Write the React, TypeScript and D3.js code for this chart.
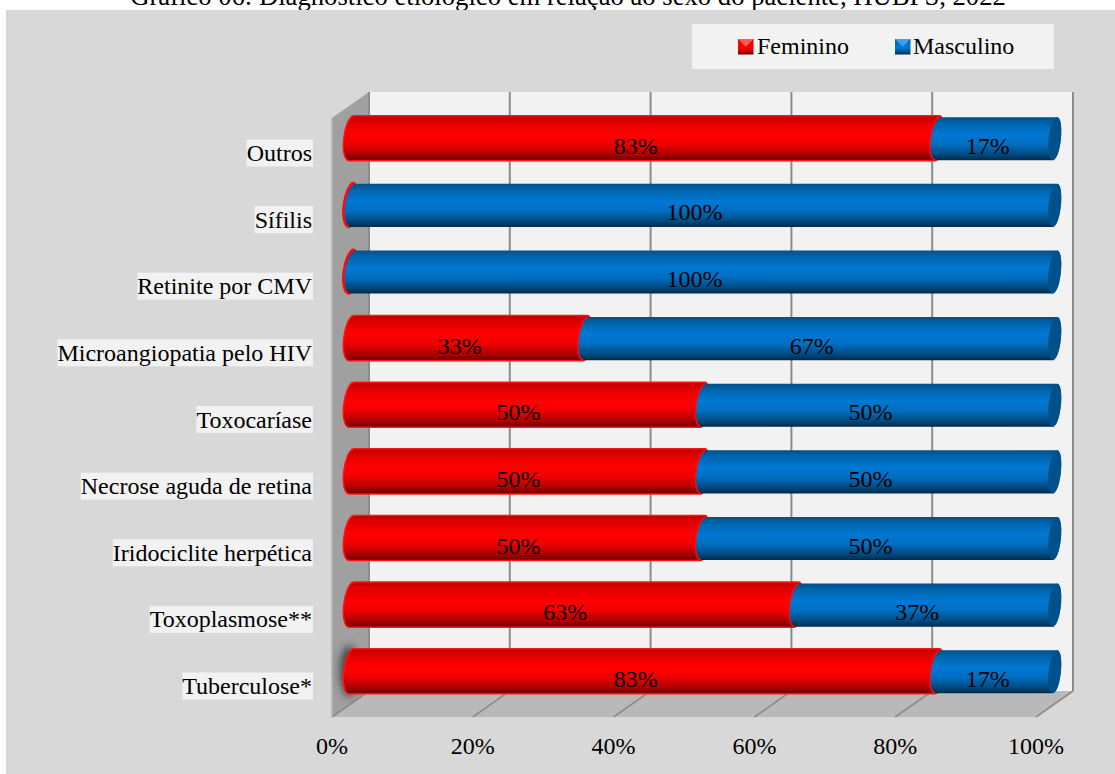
import * as d3 from 'd3';

// bottom-up, as the categories sit on the axis
const categories = [
  'Tuberculose*',
  'Toxoplasmose**',
  'Iridociclite herpética',
  'Necrose aguda de retina',
  'Toxocaríase',
  'Microangiopatia pelo HIV',
  'Retinite por CMV',
  'Sífilis',
  'Outros',
];
const feminino = [83.3, 63.3, 50, 50, 50, 33.3, 0, 0, 83.3];
const masculino = [16.7, 36.7, 50, 50, 50, 66.7, 100, 100, 16.7];
const ticks = [0, 20, 40, 60, 80, 100];
const title =
  'Gráfico 06: Diagnóstico etiológico em relação ao sexo do paciente, HUBPS, 2022';

const width = 1115;
const height = 774;
const font = '"Liberation Serif", "Times New Roman", serif';
const fontSize = 24;

const plot = { left: 332, right: 1036, bottom: 717, top: 118 };
const depth = { x: 37, y: -26 };

const x = d3.scaleLinear([0, 100], [plot.left, plot.right]);
// bars sit half way into the depth of the box
const barX = d3.scaleLinear([0, 100], [350, 1054]);
const y = d3
  .scaleBand(categories, [plot.bottom + depth.y + 13, plot.top + depth.y + 13])
  .paddingInner(0.33)
  .paddingOuter(0.16);

const textWidth = (() => {
  const ctx = document.createElement('canvas').getContext('2d');
  return (s: string) => {
    if (!ctx) return 0;
    ctx.font = `${fontSize}px ${font}`;
    return ctx.measureText(s).width;
  };
})();

// ends of a cylinder lean over: top further right than bottom
const leanTop = 3.5;
const leanBottom = -1;

function barPath(x0: number, x1: number, y0: number, y1: number) {
  const h = y1 - y0;
  const p = d3.path();
  p.moveTo(x0 + leanTop, y0);
  p.lineTo(x1 + leanTop, y0);
  p.bezierCurveTo(
    x1 + leanTop + 7,
    y0 + h * 0.05,
    x1 + leanBottom + 8,
    y0 + h * 0.95,
    x1 + leanBottom,
    y1
  );
  p.lineTo(x0 + leanBottom, y1);
  p.bezierCurveTo(
    x0 + leanBottom - 10.5,
    y0 + h * 0.95,
    x0 + leanTop - 9.5,
    y0 + h * 0.05,
    x0 + leanTop,
    y0
  );
  p.closePath();
  return p.toString();
}

function leftCap(cx: number, y0: number, y1: number) {
  const h = y1 - y0;
  const p = d3.path();
  p.moveTo(cx + leanTop, y0);
  p.bezierCurveTo(
    cx + leanTop - 9.5,
    y0 + h * 0.05,
    cx + leanBottom - 10.5,
    y0 + h * 0.95,
    cx + leanBottom,
    y1
  );
  return p.toString();
}

function rightCap(cx: number, y0: number, y1: number) {
  const h = y1 - y0;
  const p = d3.path();
  p.moveTo(cx + leanTop, y0);
  p.bezierCurveTo(
    cx + leanTop + 7,
    y0 + h * 0.05,
    cx + leanBottom + 8,
    y0 + h * 0.95,
    cx + leanBottom,
    y1
  );
  p.bezierCurveTo(
    cx + leanBottom - 9,
    y0 + h * 0.95,
    cx + leanTop - 9,
    y0 + h * 0.05,
    cx + leanTop,
    y0
  );
  return p.toString();
}

function Gradient({ id, stops }: { id: string; stops: [number, string][] }) {
  return (
    <linearGradient id={id} x1="0" y1="0" x2="0" y2="1">
      {stops.map(([o, c]) => (
        <stop key={o} offset={o} stopColor={c} />
      ))}
    </linearGradient>
  );
}

function Swatch({ px, fill, light }: { px: number; fill: string; light: string }) {
  const py = 39;
  const s = 15.5;
  const tri = d3.path();
  tri.moveTo(px, py);
  tri.lineTo(px + s, py);
  tri.lineTo(px + s / 2, py + s / 2);
  tri.closePath();
  return (
    <g>
      <rect x={px} y={py} width={s} height={s} fill={`url(#${fill})`} />
      <path d={tri.toString()} fill={light} />
    </g>
  );
}

export default function App() {
  const pct = d3.format('.0f');
  return (
    <svg
      width={width}
      height={height}
      style={{ position: 'absolute', left: 0, top: 0 }}
      fontFamily={font}
      fontSize={fontSize}
    >
      <defs>
        <Gradient
          id="red"
          stops={[
            [0, '#b80000'],
            [0.14, '#e00000'],
            [0.4, '#ff0000'],
            [0.62, '#f00000'],
            [0.85, '#b00000'],
            [1, '#680000'],
          ]}
        />
        <Gradient
          id="blue"
          stops={[
            [0, '#004f85'],
            [0.14, '#0064ab'],
            [0.4, '#0078d4'],
            [0.62, '#006fc2'],
            [0.85, '#004d85'],
            [1, '#002a4a'],
          ]}
        />
        <filter id="blur" x="-80%" y="-30%" width="260%" height="160%">
          <feGaussianBlur stdDeviation="4.5" />
        </filter>
      </defs>

      <text x={568} y={5} textAnchor="middle" fontSize={26.67} fill="#000">
        {title}
      </text>

      <rect x={6} y={10} width={width - 6} height={height - 10} fill="#d8d8d8" />

      {/* legend */}
      <rect x={692} y={24} width={362} height={45} fill="#f2f2f2" />
      <Swatch px={738} fill="red" light="#ff5a5a" />
      <text x={757} y={54}>
        Feminino
      </text>
      <Swatch px={895} fill="blue" light="#3ba0ee" />
      <text x={913} y={54}>
        Masculino
      </text>

      {/* box: back wall, side wall, floor */}
      <rect
        x={x(0) + depth.x}
        y={plot.top + depth.y}
        width={x(100) - x(0)}
        height={plot.bottom - plot.top}
        fill="#f2f2f2"
      />
      <path
        d={`M${x(0)},${plot.top}L${x(0) + depth.x},${plot.top + depth.y}V${
          plot.bottom + depth.y
        }L${x(0)},${plot.bottom}Z`}
        fill="#a0a0a0"
      />
      <path
        d={`M${x(0)},${plot.bottom}L${x(0) + depth.x},${plot.bottom + depth.y}H${
          x(100) + depth.x
        }L${x(100)},${plot.bottom}Z`}
        fill="#b9b9b9"
      />
      {ticks.map((t) => (
        <g key={t} stroke="#8c8c8c" fill="none">
          <line
            x1={x(t) + depth.x}
            x2={x(t) + depth.x}
            y1={plot.top + depth.y}
            y2={plot.bottom + depth.y}
            strokeWidth={2}
          />
          <line
            x1={x(t)}
            y1={plot.bottom}
            x2={x(t) + depth.x}
            y2={plot.bottom + depth.y}
            strokeWidth={1.6}
          />
        </g>
      ))}
      <line
        x1={x(0)}
        x2={x(0)}
        y1={plot.top}
        y2={plot.bottom}
        stroke="#b5b5b5"
        strokeWidth={1.5}
      />

      {/* shadow behind the first bar */}
      <ellipse
        cx={barX(0) - 1}
        cy={(y(categories[0]) ?? 0) + y.bandwidth() / 2}
        rx={9}
        ry={y.bandwidth() / 2 + 3}
        fill="#333333"
        opacity={0.85}
        filter="url(#blur)"
      />

      {/* bars */}
      {categories.map((c, i) => {
        const y0 = (y(c) ?? 0) + 1.5;
        const y1 = y0 + y.bandwidth() - 1.5;
        const mid = (y0 + y1) / 2;
        const xf = barX(feminino[i]);
        const xm = barX(feminino[i] + masculino[i]);
        return (
          <g key={c}>
            <path
              d={barPath(barX(0), xf, y0 - 1.5, y1 + 0.5)}
              fill="url(#red)"
              stroke="#ff1414"
              strokeWidth={1.5}
            />
            <path d={barPath(xf, xm, y0, y1)} fill="url(#blue)" />
            <path
              d={leftCap(xf, y0, y1)}
              fill="none"
              stroke="#ff0a0a"
              strokeWidth={feminino[i] > 0 ? 1.5 : 2.5}
            />
            <path d={rightCap(xm, y0, y1)} fill="#00508c" />
            {feminino[i] > 0 && (
              <text x={(barX(0) + xf) / 2 - 7.5} y={mid + 15} textAnchor="middle">
                {`${pct(feminino[i])}%`}
              </text>
            )}
            <text x={(xf + xm) / 2 - 7.5} y={mid + 15} textAnchor="middle">
              {`${pct(masculino[i])}%`}
            </text>
          </g>
        );
      })}

      {/* category labels, with their light boxes */}
      {categories.map((c) => {
        const mid = (y(c) ?? 0) + y.bandwidth() / 2;
        const w = textWidth(c);
        return (
          <g key={c}>
            <rect
              x={312 - w}
              y={mid + 1.5}
              width={w + 1}
              height={27}
              fill="#f2f2f2"
            />
            <text x={312} y={mid + 23} textAnchor="end">
              {c}
            </text>
          </g>
        );
      })}

      {/* axis labels */}
      {ticks.map((t) => (
        <text key={t} x={x(t)} y={754} textAnchor="middle">
          {`${t}%`}
        </text>
      ))}
    </svg>
  );
}
